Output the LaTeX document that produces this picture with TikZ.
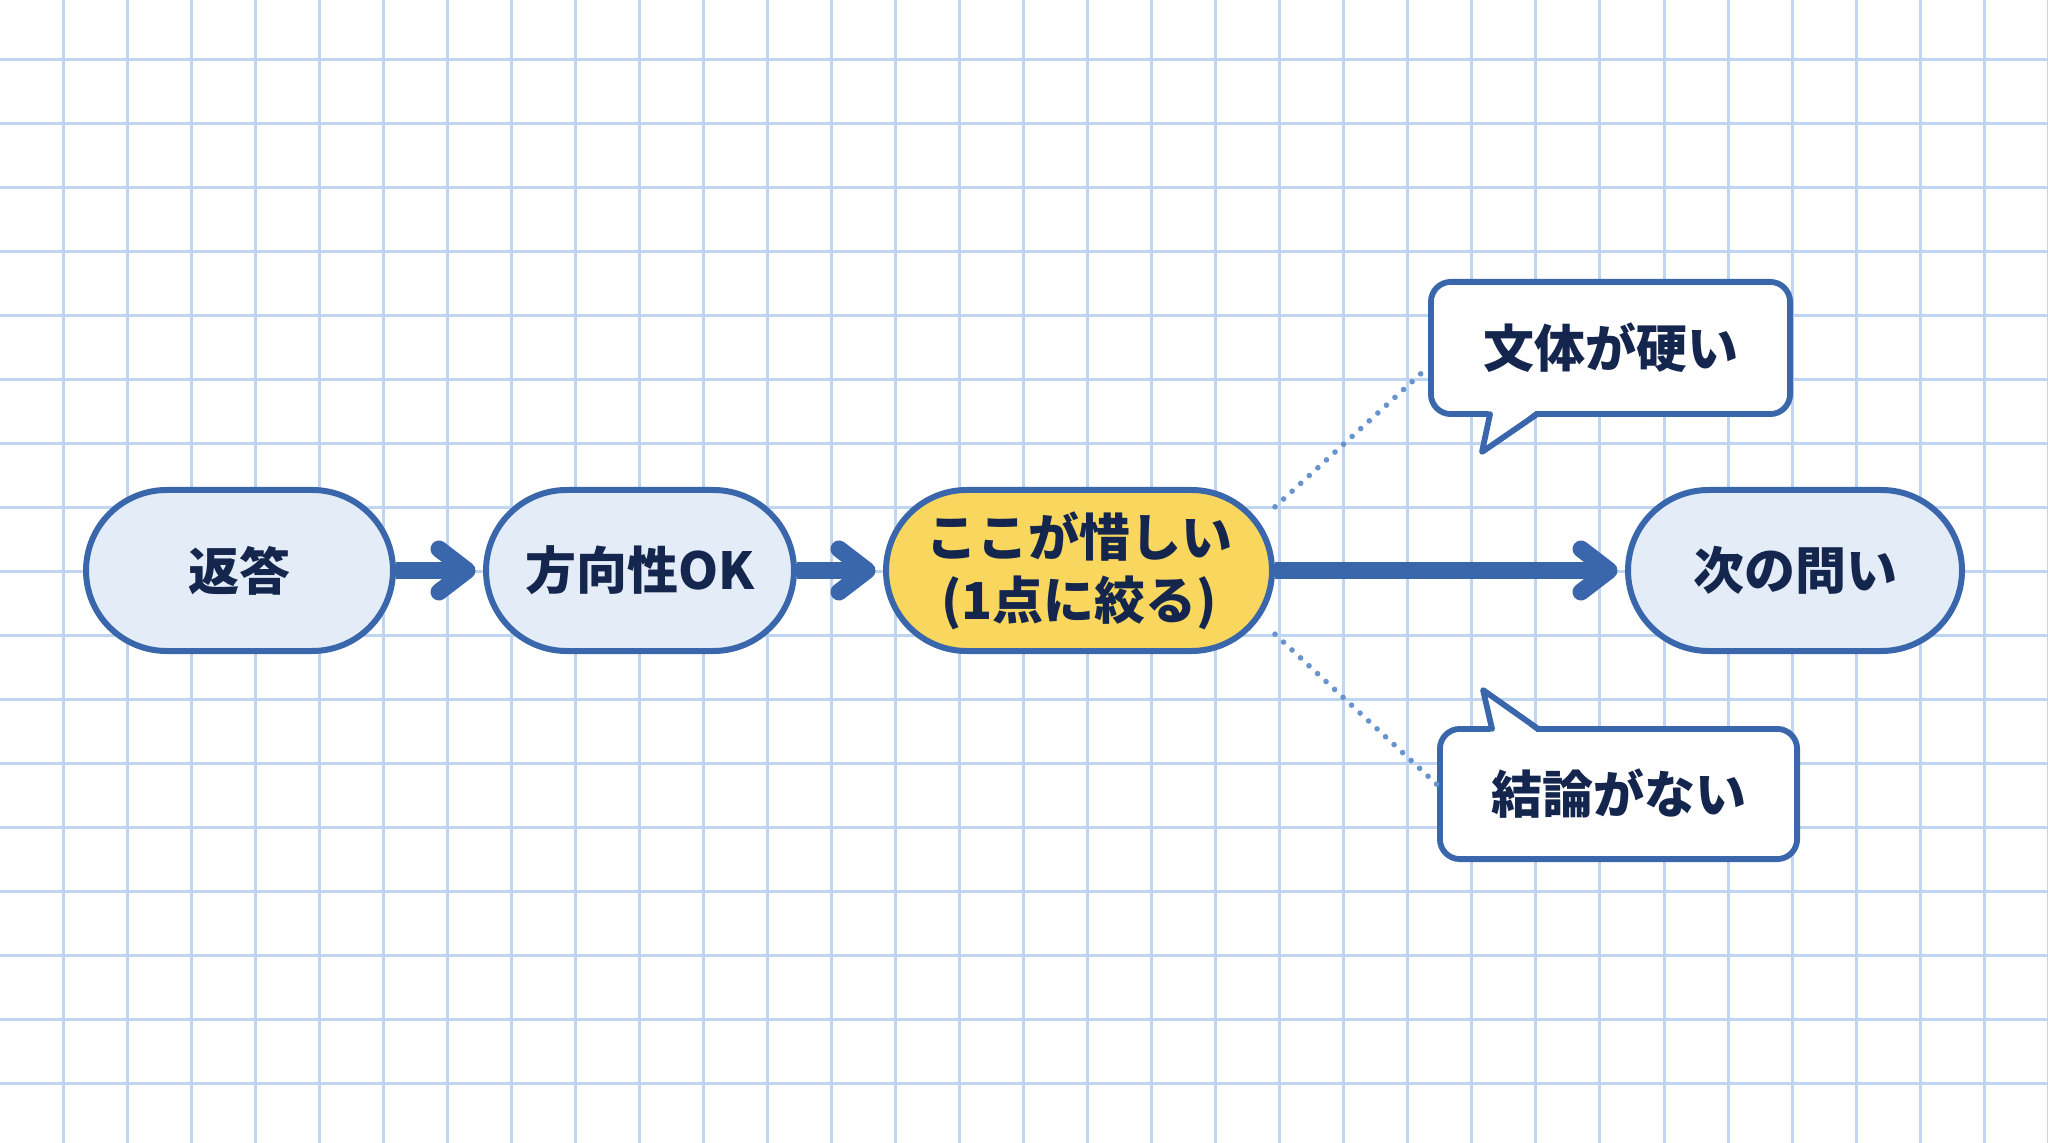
\documentclass[tikz,border=0pt]{standalone}
\usepackage{fontspec}
\setmainfont{Noto Sans CJK JP}
\usetikzlibrary{arrows.meta,calc}
\definecolor{gridc}{RGB}{192,213,240}
\definecolor{edgec}{RGB}{58,102,172}
\definecolor{nodefill}{RGB}{228,236,248}
\definecolor{hilite}{RGB}{249,214,94}
\definecolor{txt}{RGB}{20,38,78}
\definecolor{dotc}{RGB}{104,148,206}
\begin{document}
\begin{tikzpicture}[x=0.5pt,y=-0.5pt,
  lbl/.style={text=txt, font=\fontsize{25.5pt}{31.5pt}\selectfont\bfseries, align=center, inner sep=0pt},
  pill/.style={lbl, draw=edgec, line width=3pt, fill=nodefill, rectangle, rounded corners=40.3pt, minimum height=80.5pt},
  hot/.style={pill, fill=hilite},
  bubble/.style={lbl, draw=edgec, line width=2.9pt, fill=white, rectangle, rounded corners=10pt},
  tailline/.style={draw=edgec, line width=2.9pt, line join=round, line cap=round},
  flow/.style={edgec, line width=8.5pt, -{Straight Barb[length=14pt, width=21.5pt, line cap=round, line join=round]}, shorten >=3.75pt},
  hint/.style={dotc, line width=2.8pt, line cap=round, dash pattern=on 0pt off 5.8pt}
]
\useasboundingbox (0,0) rectangle (2048,1143);
\fill[white] (0,0) rectangle (2048,1143);
% grid
\foreach \k in {0,...,31} { \draw[gridc, line width=1.5pt] ({63+64.04*\k},0) -- ({63+64.04*\k},1143); }
\foreach \k in {0,...,16} { \draw[gridc, line width=1.5pt] (0,{60+63.95*\k}) -- (2048,{60+63.95*\k}); }

% callout boxes
\node[bubble, minimum width=179.6pt, minimum height=66.1pt] (b1) at (1610.5,348) {文体が硬い};
\node[bubble, minimum width=178.6pt, minimum height=65.1pt] (b2) at (1618.5,794) {結論がない};
% tails
\fill[white] (1489,409) -- (1482,452) -- (1538,409) -- cycle;
\draw[tailline] (1490,414.2) -- (1482,452) -- (1537,414.2);
\fill[white] (1491,734) -- (1483,690) -- (1539,734) -- cycle;
\draw[tailline] (1492,728.8) -- (1483,690) -- (1538,728.8);

% main nodes
\node[pill, minimum width=153.5pt] (n1) at (239.5,570.5) {返答};
\node[pill, minimum width=154pt] (n2) at (640,570.5) {方向性OK};
\node[hot, minimum width=193pt] (n3) at (1079,570.5) {ここが惜しい\\(1点に絞る)};
\node[pill, minimum width=167pt] (n4) at (1795,570.5) {次の問い};

% dotted hints
\draw[hint] (n3.18) -- (b1.186);
\draw[hint] (n3.-18) -- (b2.177);

% flow arrows
\draw[flow] (n1.east) -- (n2.west);
\draw[flow] (n2.east) -- (n3.west);
\draw[flow] (n3.east) -- (n4.west);
\end{tikzpicture}
\end{document}
